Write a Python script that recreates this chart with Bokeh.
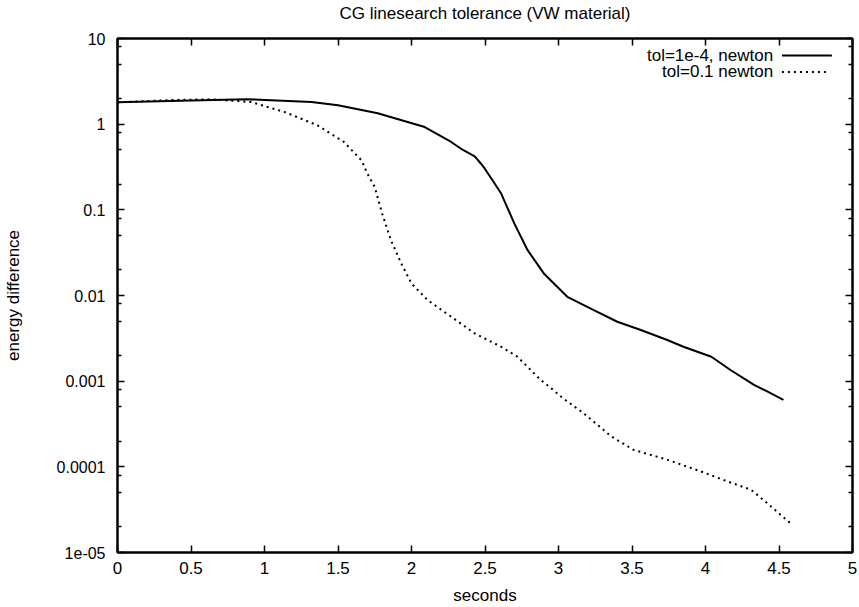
import math

from bokeh.plotting import figure
from bokeh.models import (FixedTicker, CustomJSTickFormatter, LinearAxis, LogAxis,
                          Label, Arrow)
from bokeh.embed import file_html
from bokeh.resources import INLINE

# ---- data -----------------------------------------------------------------
# tol=1e-4, newton
t_tight = [0.00, 0.50, 0.88, 1.32, 1.50, 1.77, 2.09, 2.27, 2.35, 2.43, 2.47,
           2.50, 2.56, 2.61, 2.70, 2.79, 2.90, 3.06, 3.24, 3.40, 3.56, 3.74,
           3.85, 4.04, 4.17, 4.33, 4.40, 4.53]
e_tight = [1.80, 1.89, 1.96, 1.81, 1.66, 1.34, 0.925, 0.62, 0.50, 0.42, 0.35,
           0.30, 0.21, 0.155, 0.069, 0.0338, 0.0181, 0.00966, 0.00676, 0.00494,
           0.00396, 0.00302, 0.00252, 0.00193, 0.00135, 0.000904, 0.000789,
           0.000604]

# tol=0.1 newton
t_loose = [0.00, 0.40, 0.64, 0.91, 1.14, 1.36, 1.54, 1.66, 1.70, 1.75, 1.80,
           1.86, 1.93, 2.00, 2.11, 2.27, 2.43, 2.61, 2.72, 2.88, 2.95, 3.03,
           3.17, 3.36, 3.51, 3.74, 3.97, 4.15, 4.31, 4.42, 4.51, 4.59]
e_loose = [1.80, 1.92, 1.95, 1.81, 1.38, 0.97, 0.62, 0.378, 0.265, 0.185,
           0.0906, 0.0443, 0.0237, 0.0138, 0.00883, 0.00565, 0.00361, 0.00252,
           0.00193, 0.00103, 0.000826, 0.000632, 0.000423, 0.000226, 0.000158,
           0.000121, 0.0000882, 0.0000675, 0.0000540, 0.0000377, 0.0000276,
           0.0000211]

series_names = ["tol=1e-4, newton", "tol=0.1 newton"]
title_text = "CG linesearch tolerance (VW material)"

x_ticks = [0, 0.5, 1, 1.5, 2, 2.5, 3, 3.5, 4, 4.5, 5]
x_tick_labels = ["0", "0.5", "1", "1.5", "2", "2.5", "3", "3.5", "4", "4.5", "5"]
y_ticks = [1e-5, 1e-4, 1e-3, 1e-2, 1e-1, 1, 10]
y_tick_labels = ["1e-05", "0.0001", "0.001", "0.01", "0.1", "1", "10"]
y_minor_ticks = [m * 10.0 ** k for k in range(-5, 1) for m in (2, 5, 8)]

X_RANGE = (0, 5)
Y_RANGE = (1e-5, 10)

FONT = "Liberation Sans"

# ---- figure ----------------------------------------------------------------
p = figure(width=859, height=607, x_range=X_RANGE, y_range=Y_RANGE,
           y_axis_type="log", output_backend="svg", toolbar_location=None,
           title=None,
           min_border_left=116, min_border_right=7,
           min_border_top=38, min_border_bottom=54,
           background_fill_color="white", border_fill_color="white")

p.xgrid.visible = False
p.ygrid.visible = False
p.outline_line_color = "black"
p.outline_line_width = 2

x_ticker = FixedTicker(ticks=x_ticks, minor_ticks=[])
y_ticker = FixedTicker(ticks=y_ticks, minor_ticks=y_minor_ticks)
x_fmt = CustomJSTickFormatter(args=dict(labels=x_tick_labels),
                              code="return labels[Math.round(tick * 2)];")
y_fmt = CustomJSTickFormatter(args=dict(labels=y_tick_labels),
                              code="return labels[Math.round(Math.log10(tick)) + 5];")


def style_axis(ax, label_size="17px"):
    ax.axis_line_color = "black"
    ax.axis_line_width = 2
    ax.major_tick_in = 7
    ax.major_tick_out = 0
    ax.minor_tick_in = 4
    ax.minor_tick_out = 0
    ax.major_tick_line_width = 1.5
    ax.minor_tick_line_width = 1.5
    ax.major_tick_line_color = "black"
    ax.minor_tick_line_color = "black"
    ax.major_label_text_font = FONT
    ax.major_label_text_font_size = label_size
    ax.major_label_text_color = "black"
    ax.axis_label_text_font = FONT
    ax.axis_label_text_font_size = "17px"
    ax.axis_label_text_font_style = "normal"
    ax.axis_label_text_color = "black"


xa = p.xaxis[0]
xa.ticker = x_ticker
xa.formatter = x_fmt
xa.axis_label = "seconds"
style_axis(xa, "17px")
xa.major_label_standoff = 9
xa.axis_label_standoff = 9

ya = p.yaxis[0]
ya.ticker = y_ticker
ya.formatter = y_fmt
ya.axis_label = "energy difference"
style_axis(ya, "16px")
ya.major_label_standoff = 12
ya.axis_label_standoff = 31

# mirrored tick marks on the top edge; its axis label carries the chart title
blank = CustomJSTickFormatter(code="return '';")
top = LinearAxis(ticker=x_ticker, formatter=blank, axis_label=title_text)
style_axis(top, "1px")
top.major_label_standoff = 0
top.axis_label_standoff = 16
p.add_layout(top, "above")

# mirrored tick marks on the right edge
right = LogAxis(ticker=y_ticker, formatter=blank)
style_axis(right, "1px")
right.major_label_standoff = 0
p.add_layout(right, "right")

# ---- curves ----------------------------------------------------------------
p.line(t_tight, e_tight, line_color="black", line_width=2)
p.line(t_loose, e_loose, line_color="black", line_width=2, line_dash="2 4")


# ---- legend (gnuplot style: text first, line sample to the right) ----------
def frame_point(fx, fy):
    """Fractions of the frame (from left, from top) -> data coordinates."""
    x = X_RANGE[0] + fx * (X_RANGE[1] - X_RANGE[0])
    lo, hi = math.log10(Y_RANGE[0]), math.log10(Y_RANGE[1])
    return x, 10 ** (hi - fy * (hi - lo))


rows = [(0.033, None, 0.972), (0.065, "2 4", 0.967)]
for name, (fy, dash, fx_end) in zip(series_names, rows):
    lx, ly = frame_point(0.892, fy)
    p.add_layout(Label(x=lx, y=ly, text=name, text_align="right",
                       text_baseline="middle", text_font=FONT,
                       text_font_size="17px", text_color="black"))
    sx0, sy = frame_point(0.904, fy)
    sx1, _ = frame_point(fx_end, fy)
    arrow = Arrow(end=None, x_start=sx0, y_start=sy, x_end=sx1, y_end=sy,
                  line_color="black", line_width=2)
    if dash:
        arrow.line_dash = dash
    p.add_layout(arrow)

open("out.html", "w").write(file_html(p, INLINE))
